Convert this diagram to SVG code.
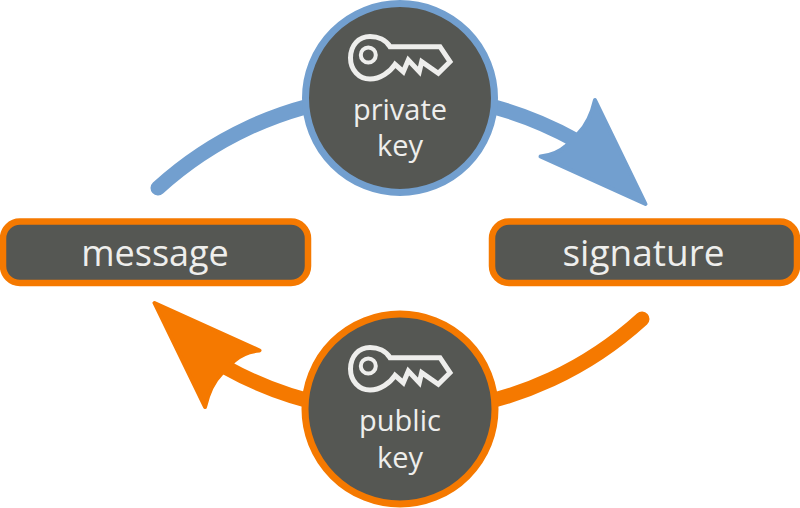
<svg xmlns="http://www.w3.org/2000/svg" width="800" height="508" viewBox="0 0 800 508">
<style>
text{font-family:"Open Sans","Noto Sans",sans-serif;fill:#eeeeec;text-anchor:middle}
.lg{font-size:36px}
.sg{font-size:37px}
.sm{font-size:29px}
.box{fill:#555753;stroke:#f57900;stroke-width:6.5}
.disc{fill:#555753;stroke-width:7}
.shaft{fill:none;stroke-width:15;stroke-linecap:round}
.head{stroke-width:4;stroke-linejoin:round}
.key{fill:none;stroke:#eeeeec;stroke-width:5;stroke-linejoin:miter}
.ring{fill:none;stroke:#eeeeec;stroke-width:4}
</style>
<defs>
<g id="keyicon">
<path class="key" d="M390,46.700 L440,46.700 L450,61.700 L438.300,73.300 L421.700,61.700 L419.300,71.700 L408.300,60 L403.300,71.700 L395,64.300 C390,72 380,79 370,79 C359,79 350.500,70 350.500,58 C350.500,45 359,36.500 370,36.500 C378,36.500 386,40 390,46.700 Z"/>
<circle class="ring" cx="368.300" cy="55" r="7.500"/>
</g>
</defs>
<g id="connectors">
<g id="signing-arrow">
<path class="shaft" stroke="#729fcf" d="M158,188 A359,359 0 0 1 575,140"/>
<path class="head" fill="#729fcf" stroke="#729fcf" d="M595,100 L645.500,204 L540.500,156.500 Q556,155 566,146 L578,134 Q590,122 595,100 Z"/>
</g>
<g id="verifying-arrow" transform="rotate(180 400 253.500)">
<path class="shaft" stroke="#f57900" d="M158,188 A359,359 0 0 1 575,140"/>
<path class="head" fill="#f57900" stroke="#f57900" d="M595,100 L645.500,204 L540.500,156.500 Q556,155 566,146 L578,134 Q590,122 595,100 Z"/>
</g>
</g>
<g id="private-key">
<circle class="disc" stroke="#729fcf" cx="400" cy="98" r="94.500"/>
<use href="#keyicon"/>
<text class="sm"><tspan x="400" y="120">private</tspan><tspan x="400" y="156">key</tspan></text>
</g>
<g id="public-key">
<circle class="disc" stroke="#f57900" cx="400" cy="409" r="95"/>
<use href="#keyicon" transform="translate(0 311)"/>
<text class="sm"><tspan x="400" y="431">public</tspan><tspan x="400" y="468">key</tspan></text>
</g>
<g id="message">
<rect class="box" x="3" y="221.500" width="305" height="61.500" rx="17"/>
<text class="lg" x="155" y="266">message</text>
</g>
<g id="signature">
<rect class="box" x="492" y="221.500" width="305" height="61.500" rx="17"/>
<text class="sg" x="643.500" y="266">signature</text>
</g>
</svg>
